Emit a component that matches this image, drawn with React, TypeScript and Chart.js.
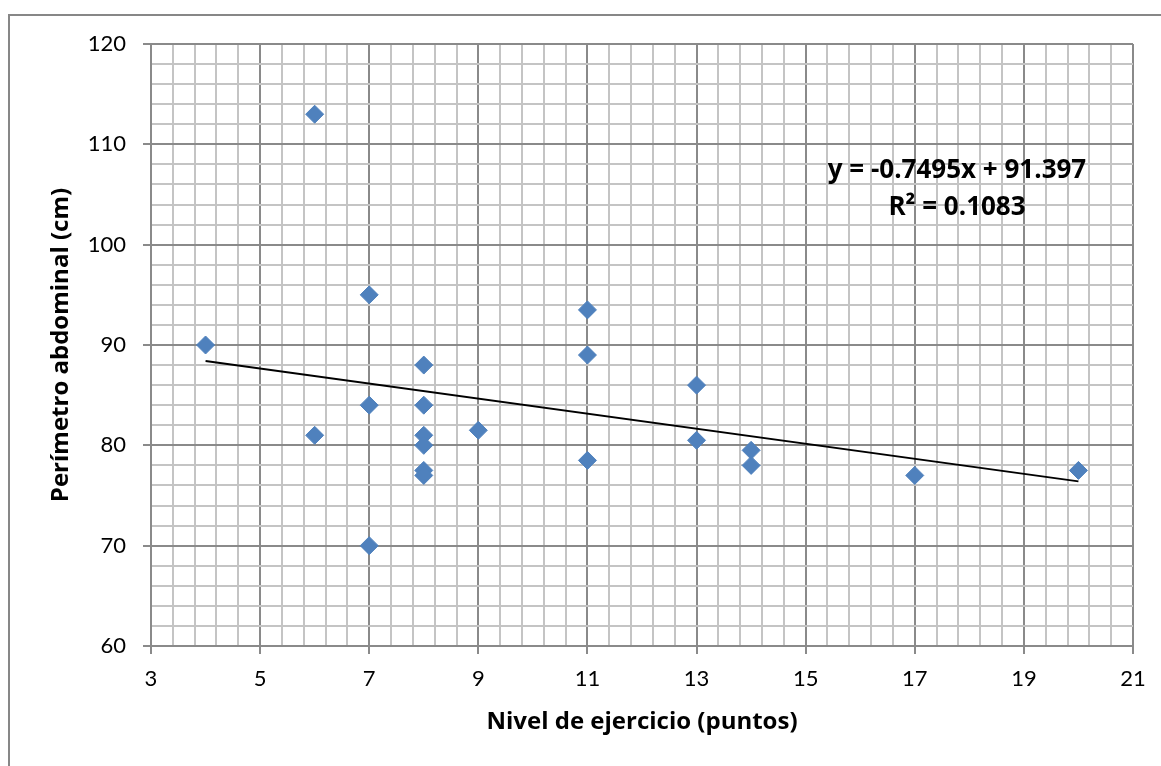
import React, { useEffect, useRef } from 'react';
import { Chart, registerables } from 'chart.js';

Chart.register(...registerables);

// ---- data ----
const X_TICKS = [3, 5, 7, 9, 11, 13, 15, 17, 19, 21];
const Y_TICKS = [60, 70, 80, 90, 100, 110, 120];

const EXERCISE = [4, 6, 6, 7, 7, 7, 8, 8, 8, 8, 8, 8, 9, 11, 11, 11, 13, 13, 14, 14, 17, 20];
const WAIST = [90, 113, 81, 95, 84, 70, 88, 84, 81, 80, 77.5, 77, 81.5, 93.5, 89, 78.5, 86, 80.5, 79.5, 78, 77, 77.5];

const TREND_SLOPE = -0.7495;
const TREND_INTERCEPT = 91.397;
const R_SQUARED = 0.1083;
const TREND_X_RANGE = [4, 20];

const X_TITLE = 'Nivel de ejercicio (puntos)';
const Y_TITLE = 'Perímetro abdominal (cm)';

// ---- style ----
const MINOR_DIVISIONS = 5;
const MAJOR_COLOR = '#8a8a8a';
const MINOR_COLOR = '#c4c4c4';
const MARKER_COLOR = '#4F81BD';
const FONT_FAMILY = 'Lato, "Open Sans", sans-serif';
const BOLD_FAMILY = '"Open Sans", Lato, sans-serif';

function subdivide(major: number[]): number[] {
  const out: number[] = [];
  for (let i = 0; i < major.length - 1; i++) {
    const a = major[i];
    const b = major[i + 1];
    const step = (b - a) / MINOR_DIVISIONS;
    for (let k = 0; k < MINOR_DIVISIONS; k++) out.push(a + k * step);
  }
  out.push(major[major.length - 1]);
  return out;
}

function findMajor(v: number, major: number[]): number | undefined {
  return major.find((m) => Math.abs(m - v) < 1e-6);
}

const framePlugin = {
  id: 'frame',
  beforeDraw(chart: any) {
    const { ctx } = chart;
    ctx.save();
    ctx.strokeStyle = '#878787';
    ctx.lineWidth = 2;
    ctx.beginPath();
    ctx.moveTo(9, 766);
    ctx.lineTo(9, 15);
    ctx.lineTo(1161, 15);
    ctx.stroke();
    ctx.restore();
  },
};

const equationPlugin = {
  id: 'equation',
  afterDatasetsDraw(chart: any) {
    const { ctx, chartArea } = chart;
    const w = chartArea.right - chartArea.left;
    const h = chartArea.bottom - chartArea.top;
    const cx = chartArea.left + w * 0.8208;
    ctx.save();
    ctx.fillStyle = '#000';
    ctx.font = `bold 26px ${BOLD_FAMILY}`;
    ctx.textAlign = 'center';
    ctx.textBaseline = 'middle';
    ctx.fillText(`y = ${TREND_SLOPE}x + ${TREND_INTERCEPT}`, cx, chartArea.top + h * 0.211);
    ctx.fillText(`R² = ${R_SQUARED}`, cx, chartArea.top + h * 0.2724);
    ctx.restore();
  },
};

function gridColor(major: number[]) {
  return (ctx: any) => {
    if (!ctx.tick) return MAJOR_COLOR;
    return findMajor(ctx.tick.value, major) !== undefined ? MAJOR_COLOR : MINOR_COLOR;
  };
}
function tickMarkColor(major: number[]) {
  return (ctx: any) => {
    if (!ctx.tick) return MAJOR_COLOR;
    return findMajor(ctx.tick.value, major) !== undefined ? MAJOR_COLOR : 'rgba(0,0,0,0)';
  };
}

export default function App() {
  const canvasRef = useRef<HTMLCanvasElement | null>(null);

  useEffect(() => {
    if (!canvasRef.current) return;
    const trend = TREND_X_RANGE.map((x) => ({ x, y: TREND_SLOPE * x + TREND_INTERCEPT }));
    const points = EXERCISE.map((x, i) => ({ x, y: WAIST[i] }));
    const tickFont = { family: FONT_FAMILY, size: 22 };

    const chart = new Chart(canvasRef.current, {
      type: 'scatter',
      data: {
        datasets: [
          {
            label: 'Tendencia',
            data: trend,
            showLine: true,
            borderColor: '#000',
            borderWidth: 2,
            pointRadius: 0,
            fill: false,
          },
          {
            label: 'Datos',
            data: points,
            pointStyle: 'rectRot',
            pointRadius: 9,
            backgroundColor: MARKER_COLOR,
            borderColor: MARKER_COLOR,
            borderWidth: 1,
          },
        ],
      },
      options: {
        animation: false,
        responsive: false,
        maintainAspectRatio: false,
        events: [],
        layout: { padding: { top: 44, right: 28, left: 0, bottom: 0 } },
        plugins: {
          legend: { display: false },
          tooltip: { enabled: false },
        },
        scales: {
          x: {
            type: 'linear',
            position: 'bottom',
            min: X_TICKS[0],
            max: X_TICKS[X_TICKS.length - 1],
            afterBuildTicks: (s: any) => {
              s.ticks = subdivide(X_TICKS).map((value) => ({ value }));
            },
            afterFit: (s: any) => {
              s.height = 120;
              s.paddingLeft = 0;
              s.paddingRight = 0;
            },
            ticks: {
              autoSkip: false,
              maxRotation: 0,
              minRotation: 0,
              padding: 12,
              color: '#000',
              font: tickFont,
              callback: (v: any) => {
                const m = findMajor(Number(v), X_TICKS);
                return m === undefined ? '' : String(m);
              },
            },
            grid: {
              color: gridColor(X_TICKS),
              lineWidth: 2,
              tickLength: 8,
              tickWidth: 2,
              tickColor: tickMarkColor(X_TICKS),
            },
            border: { color: MAJOR_COLOR, width: 2 },
            title: {
              display: true,
              text: X_TITLE,
              color: '#000',
              font: { family: BOLD_FAMILY, size: 24, weight: 'bold' },
              padding: { top: 29, bottom: 29 },
            },
          },
          y: {
            type: 'linear',
            position: 'left',
            min: Y_TICKS[0],
            max: Y_TICKS[Y_TICKS.length - 1],
            afterBuildTicks: (s: any) => {
              s.ticks = subdivide(Y_TICKS).map((value) => ({ value }));
            },
            afterFit: (s: any) => {
              s.width = 151;
              s.paddingTop = 0;
              s.paddingBottom = 0;
            },
            ticks: {
              autoSkip: false,
              padding: 17,
              color: '#000',
              font: tickFont,
              callback: (v: any) => {
                const m = findMajor(Number(v), Y_TICKS);
                return m === undefined ? '' : String(m);
              },
            },
            grid: {
              color: gridColor(Y_TICKS),
              lineWidth: 2,
              tickLength: 8,
              tickWidth: 2,
              tickColor: tickMarkColor(Y_TICKS),
            },
            border: { color: MAJOR_COLOR, width: 2 },
            title: {
              display: true,
              text: Y_TITLE,
              color: '#000',
              font: { family: BOLD_FAMILY, size: 24, weight: 'bold' },
              padding: { top: 47, bottom: 47 },
            },
          },
        },
      },
      plugins: [framePlugin, equationPlugin],
    } as any);

    return () => chart.destroy();
  }, []);

  return (
    <div
      style={{
        position: 'absolute',
        left: 0,
        top: 0,
        width: 1161,
        height: 766,
        overflow: 'hidden',
        background: '#fff',
      }}
    >
      <canvas ref={canvasRef} width={1161} height={766} style={{ display: 'block', width: 1161, height: 766 }} />
    </div>
  );
}
